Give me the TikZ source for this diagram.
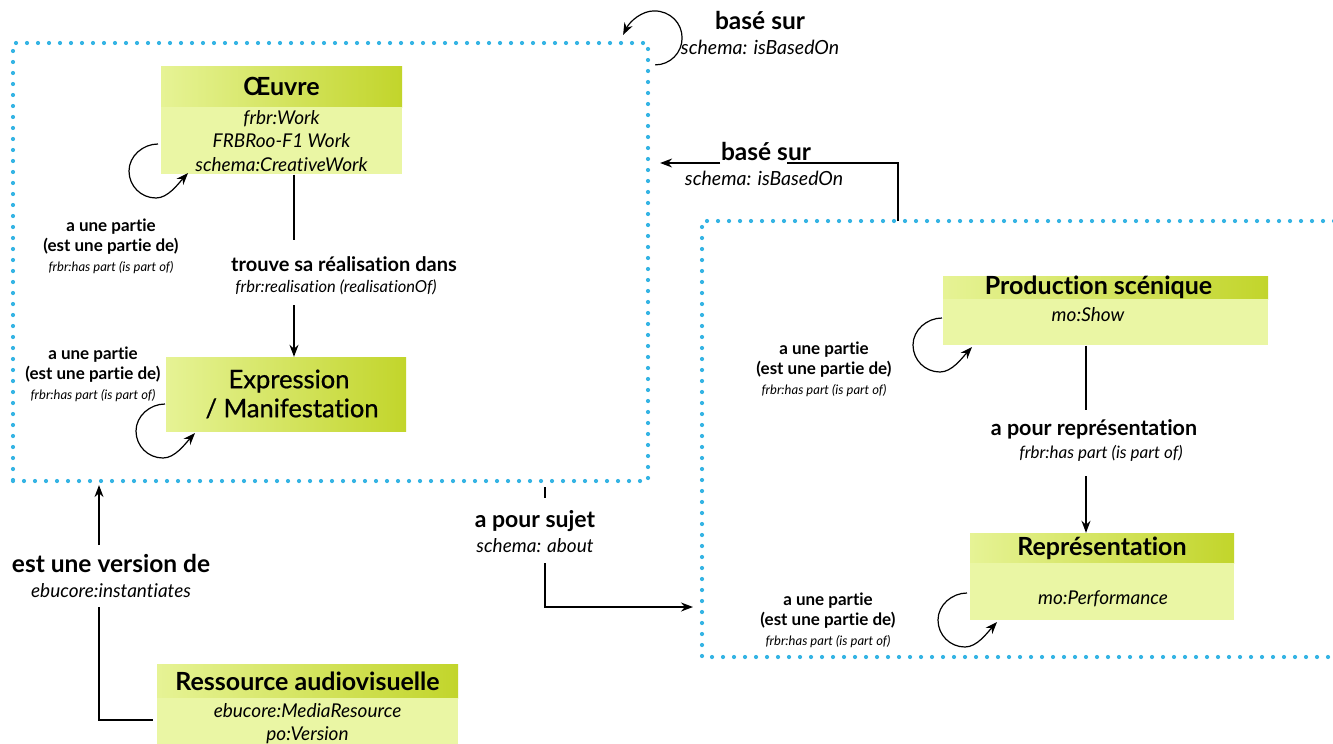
\documentclass[tikz,border=0pt]{standalone}
\usepackage{fontspec}
\setmainfont{Lato}[Ligatures=NoCommon]
\newfontfamily\latomed{Lato}[Ligatures=NoCommon,FakeBold=0.8]
\usetikzlibrary{arrows.meta,calc}
\definecolor{dotblue}{HTML}{35B4E4}
\definecolor{hdrL}{HTML}{E6F395}
\definecolor{hdrR}{HTML}{C2D52B}
\definecolor{bodyC}{HTML}{EAF6A4}
\newcommand\setfs[2]{\fontsize{#1}{#2}\selectfont}
\newcommand\selfloop[1]{%
  \draw[loopst] ($(#1)+(2,-27)$) .. controls ($(#1)+(-13,-27)$) and ($(#1)+(-27,-15)$) .. ($(#1)+(-27,0)$)
     .. controls ($(#1)+(-27,15)$) and ($(#1)+(-15,27)$) .. ($(#1)+(0,27)$)
     .. controls ($(#1)+(12,27)$) and ($(#1)+(22,13)$) .. ($(#1)+(32,2)$);}
\tikzset{
  dotst/.style={draw=dotblue, line width=4.2pt, line cap=round, dash pattern=on 0pt off 11pt},
  hdr/.style={rectangle, inner sep=0pt, left color=hdrL, right color=hdrR, font=\bfseries\setfs{25}{27}},
  bodyst/.style={rectangle, inner sep=0pt, fill=bodyC, anchor=north, align=center, font=\itshape\setfs{19}{23.5}},
  conn/.style={draw=black, line width=1.4pt},
  arr/.style={conn, -{Stealth[length=12pt,width=9pt]}},
  loopst/.style={draw=black, line width=1.2pt, -{Stealth[length=12pt,width=9pt]}},
  lbl/.style={align=center, inner sep=0pt},
  partlbl/.style={lbl, font=\bfseries\setfs{17}{20}},
  smallit/.style={font=\itshape\setfs{19}{23.5}},
}
\begin{document}
\begin{tikzpicture}[x=1pt,y=-1pt]
\useasboundingbox[fill=white] (0,0) rectangle (1333,744);

% groups
\node[dotst, rectangle, minimum width=635, minimum height=438, inner sep=0pt] (leftgrp) at (330.5,262) {};
\coordinate (rgTR) at (1345,221);
\coordinate (rgTL) at (702,221);
\coordinate (rgBL) at (702,657);
\coordinate (rgBR) at (1345,657);
\draw[dotst] (rgTR) -- (rgTL) -- (rgBL) -- (rgBR);

% Oeuvre
\node[hdr, minimum width=241, minimum height=41] (oeuvreH) at (281.5,86.5) {Œuvre};
\node[bodyst, minimum width=241, minimum height=67] (oeuvreB) at (oeuvreH.south) {frbr:Work\\FRBRoo-F1 Work\\schema:CreativeWork};

% Expression
\node[hdr, font=\latomed\setfs{25.5}{29}, align=center, minimum width=240, minimum height=74] (expr) at (286,394) {\hspace*{6pt}Expression\\\hspace*{12pt}/ Manifestation};

% Production scenique
\node[hdr, minimum width=325, minimum height=23] (prodH) at (1105.5,287.5) {\hspace*{-14pt}Production scénique};
\node[bodyst, minimum width=325, minimum height=46] (prodB) at (prodH.south) {};
\node[smallit, inner sep=0pt] (prodT) at (1088,315) {mo:Show};

% Representation
\node[hdr, minimum width=264, minimum height=30] (repH) at (1102,548) {Représentation};
\node[bodyst, minimum width=264, minimum height=57] (repB) at (repH.south) {};
\node[smallit, inner sep=0pt] (repT) at (1103,599) {mo:Performance};

% Ressource audiovisuelle
\node[hdr, minimum width=301, minimum height=34] (resH) at (307.5,681) {Ressource audiovisuelle};
\node[bodyst, minimum width=301, minimum height=50] (resB) at (resH.south) {ebucore:MediaResource\\po:Version};

% self loops
\coordinate (lo1) at (156,171);
\coordinate (lo2) at (163,431);
\coordinate (lo3) at (940,345);
\coordinate (lo4) at (965,620);
\selfloop{lo1}
\selfloop{lo2}
\selfloop{lo3}
\selfloop{lo4}

\node[partlbl] (p1) at (111,246) {a une partie\\(est une partie de)\\{\mdseries\itshape\setfs{13}{20}frbr:has part (is part of)}};
\node[partlbl] (p2) at (93,374) {a une partie\\(est une partie de)\\{\mdseries\itshape\setfs{13}{20}frbr:has part (is part of)}};
\node[partlbl] (p3) at (824,369) {a une partie\\(est une partie de)\\{\mdseries\itshape\setfs{13}{20}frbr:has part (is part of)}};
\node[partlbl] (p4) at (828,620) {a une partie\\(est une partie de)\\{\mdseries\itshape\setfs{13}{20}frbr:has part (is part of)}};

% realisation
\coordinate (r1) at (294,240);
\coordinate (r2) at (294,305);
\draw[conn] (oeuvreB.south -| r1) -- (r1);
\draw[arr] (r2) -- (r2 |- expr.north);
\node[lbl, font=\setfs{16.5}{21}] (lreal) at (344,276) {{\bfseries\setfs{20}{21}trouve sa réalisation dans}\\{\itshape\hspace*{-16pt}frbr:realisation (realisationOf)}};

% representation
\coordinate (s1) at (1086,410);
\coordinate (s2) at (1086,476);
\draw[conn] (prodB.south -| s1) -- (s1);
\draw[arr] (s2) -- (s2 |- repH.north);
\node[lbl, font=\setfs{17}{23}] (lrep) at (1094,440) {{\bfseries\setfs{21.5}{23}a pour représentation}\\{\itshape\hspace*{14pt}frbr:has part (is part of)}};

% top loop (base sur)
\draw[loopst] ($(leftgrp.north east)+(5,24)$) .. controls ($(leftgrp.north east)+(20,24)$) and ($(leftgrp.north east)+(32,12)$) .. ($(leftgrp.north east)+(32,-3)$)
   .. controls ($(leftgrp.north east)+(32,-18)$) and ($(leftgrp.north east)+(20,-30)$) .. ($(leftgrp.north east)+(4,-30)$)
   .. controls ($(leftgrp.north east)+(-8,-30)$) and ($(leftgrp.north east)+(-20,-20)$) .. ($(leftgrp.north east)+(-27,-6)$);
\node[lbl, font=\setfs{19.5}{25}] (lbase1) at (760,33) {{\bfseries\setfs{24.5}{25}basé sur}\\{\itshape schema: isBasedOn}};

% middle base sur
\coordinate (b1) at (898,163);
\coordinate (b2) at (787,163);
\coordinate (b3) at (720,163);
\draw[conn] (rgTL -| b1) -- (b1) -- (b2);
\draw[arr] (b3) -- ($(leftgrp.east |- b3)+(10,0)$);
\node[lbl, font=\setfs{19.5}{25}] (lbase2) at (764,164) {{\bfseries\setfs{24.5}{25}\hspace*{4pt}basé sur}\\{\itshape schema: isBasedOn}};

% a pour sujet
\coordinate (j0) at (545,487);
\coordinate (j1) at (545,498);
\coordinate (j2) at (545,563);
\coordinate (j3) at (545,607);
\draw[conn] (j0) -- (j1);
\draw[arr] (j2) -- (j3) -- ($(rgBL |- j3)+(-9,0)$);
\node[lbl, font=\setfs{19}{25}] (lsujet) at (535,532) {{\bfseries\setfs{23}{25}a pour sujet}\\{\itshape schema: about}};

% est une version de
\coordinate (v1) at (99,720);
\coordinate (v2) at (99,607);
\coordinate (v3) at (99,545);
\draw[conn] ($(resH.west |- v1)+(-4,0)$) -- (v1) -- (v2);
\draw[arr] (v3) -- ($(leftgrp.south -| v3)+(0,2)$);
\node[lbl, font=\setfs{19}{25}] (lversion) at (111,576) {{\bfseries\setfs{24.5}{25}est une version de}\\{\itshape ebucore:instantiates}};
\end{tikzpicture}
\end{document}
